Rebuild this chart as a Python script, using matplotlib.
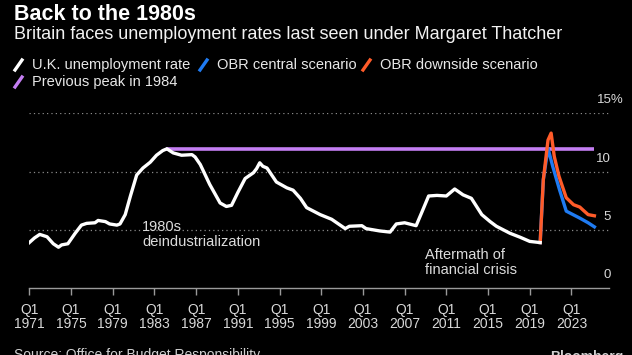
import matplotlib
matplotlib.use("Agg")
import matplotlib.pyplot as plt
from matplotlib.lines import Line2D

# --------------------------------------------------------------------------- #
# Data
# --------------------------------------------------------------------------- #
uk_years = [1971.0, 1971.5, 1972.0, 1972.7, 1973.3, 1973.8, 1974.1, 1974.7, 1975.4,
            1976.0, 1976.5, 1977.3, 1977.6, 1978.3, 1978.7, 1979.4, 1979.7, 1980.2,
            1980.7, 1981.3, 1981.9, 1982.6, 1983.2, 1983.8, 1984.2, 1984.8, 1985.6,
            1986.6, 1986.9, 1987.4, 1988.3, 1989.3, 1989.9, 1990.4, 1991.0, 1991.7,
            1992.5, 1992.8, 1993.1, 1993.4, 1993.8, 1994.7, 1995.7, 1996.3, 1997.0,
            1997.6, 1998.9, 2000.0, 2001.3, 2001.7, 2002.9, 2003.3, 2004.6, 2005.6,
            2006.2, 2007.0, 2008.1, 2008.6, 2009.3, 2010.1, 2011.0, 2011.8, 2012.6,
            2013.4, 2014.4, 2015.2, 2015.8, 2017.1, 2018.1, 2019.0, 2020.0]
uk_rate = [3.9, 4.3, 4.6, 4.4, 3.8, 3.5, 3.7, 3.8, 4.7,
           5.4, 5.55, 5.6, 5.8, 5.7, 5.5, 5.4, 5.5, 6.3,
           7.9, 9.7, 10.3, 10.8, 11.4, 11.8, 11.95, 11.6, 11.4,
           11.45, 11.25, 10.6, 8.9, 7.3, 7.0, 7.1, 8.2, 9.4,
           9.9, 10.25, 10.75, 10.45, 10.3, 9.1, 8.6, 8.4, 7.7,
           6.9, 6.3, 5.9, 5.1, 5.3, 5.35, 5.1, 4.9, 4.8,
           5.5, 5.6, 5.35, 6.4, 7.9, 7.95, 7.9, 8.5, 8.0,
           7.7, 6.3, 5.7, 5.3, 4.7, 4.35, 4.0, 3.9]

central_years = [2020.0, 2020.3, 2020.75, 2021.2, 2021.85, 2022.5, 2023.8, 2024.6, 2025.2]
central_rate = [3.9, 9.3, 12.0, 10.45, 8.45, 6.6, 6.0, 5.6, 5.25]

downside_years = [2020.0, 2020.3, 2020.75, 2021.05, 2021.35, 2021.8, 2022.5,
                  2023.2, 2023.8, 2024.1, 2024.6, 2025.2]
downside_rate = [3.9, 9.3, 12.7, 13.3, 11.3, 9.6, 7.75,
                 7.15, 6.95, 6.7, 6.3, 6.2]

peak_years = [1984.1, 2025.2]
peak_rate = [11.95, 11.95]

tick_years = list(range(1971, 2024, 4))
y_ticks = [0, 5, 10, 15]

WHITE = "#ffffff"
BLUE = "#1f7bf2"
ORANGE = "#ff5b29"
PURPLE = "#c47ef2"
LABEL = "#d8d8d8"

plt.rcParams["font.family"] = ["Liberation Sans", "DejaVu Sans"]

W, H = 632, 355
fig = plt.figure(figsize=(W / 100, H / 100), dpi=100, facecolor="black")


def fx(px):
    return px / W


def fy(py):
    return 1 - py / H


ax_l, ax_r, ax_b, ax_t = 29.3, 609.0, 288.0, 113.3
ax = fig.add_axes([fx(ax_l), fy(ax_b), fx(ax_r) - fx(ax_l), fy(ax_t) - fy(ax_b)])
ax.set_facecolor("black")
ax.set_xlim(1971, 2026.6)
ax.set_ylim(0, 15)

for v in y_ticks[1:]:
    ax.axhline(v, color="#8a8a8a", lw=0.9, ls=(0, (1, 2.5)), zorder=1)

ax.plot(peak_years, peak_rate, color=PURPLE, lw=2.6, zorder=3, solid_capstyle="butt")
ax.plot(central_years, central_rate, color=BLUE, lw=2.4, zorder=4)
ax.plot(downside_years, downside_rate, color=ORANGE, lw=2.4, zorder=5)
ax.plot(uk_years, uk_rate, color=WHITE, lw=2.4, zorder=6, solid_joinstyle="round")

for s in ["top", "right", "left"]:
    ax.spines[s].set_visible(False)
ax.spines["bottom"].set_color("#9a9a9a")
ax.spines["bottom"].set_linewidth(1.0)
ax.set_yticks([])
ax.set_xticks(tick_years)
ax.set_xticklabels([f"Q1\n{y}" for y in tick_years], color=LABEL, fontsize=10,
                   linespacing=1.05)
ax.tick_params(axis="x", length=5, width=1.0, color="#9a9a9a", pad=5.5)

# right-side value labels sitting above the gridlines
right_x = (610.5 - ax_l) / (ax_r - ax_l)
for v in y_ticks[:-1]:
    ax.text(right_x, v + 1.1, str(v), color=LABEL, fontsize=9.5,
            ha="right", va="center", transform=ax.get_yaxis_transform())
ax.text((596.5 - ax_l) / (ax_r - ax_l), 15 + 1.1, "15%", color=LABEL, fontsize=9.5,
        ha="left", va="center", transform=ax.get_yaxis_transform())

ax.text(1981.8, 4.57, "1980s\ndeindustrialization", color="#dcdcdc", fontsize=10.5,
        ha="left", va="center", linespacing=1.05)
ax.text(2009.0, 2.19, "Aftermath of\nfinancial crisis", color="#dcdcdc", fontsize=10.5,
        ha="left", va="center", linespacing=1.05)

# titles
fig.text(fx(14), fy(14), "Back to the 1980s", color="white", fontsize=15.5,
         fontweight="bold", va="center", ha="left")
fig.text(fx(14), fy(34.5), "Britain faces unemployment rates last seen under Margaret Thatcher",
         color="#f2f2f2", fontsize=13, va="center", ha="left")

# legend with slanted swatches
legend_items = [
    (15, 65, WHITE, "U.K. unemployment rate"),
    (200, 65, BLUE, "OBR central scenario"),
    (363, 65, ORANGE, "OBR downside scenario"),
    (15, 82, PURPLE, "Previous peak in 1984"),
]
for x0, yc, col, label in legend_items:
    fig.add_artist(Line2D([fx(x0), fx(x0 + 7)], [fy(yc + 5), fy(yc - 5)],
                          color=col, lw=2.4, transform=fig.transFigure))
    fig.text(fx(x0 + 17), fy(yc), label, color="#e8e8e8", fontsize=10.5,
             va="center", ha="left")

fig.text(fx(14), fy(348.5), "Source: Office for Budget Responsibility", color="#d0d0d0",
         fontsize=10, va="top", ha="left")
fig.text(fx(550), fy(350), "Bloomberg", color="#d0d0d0", fontsize=10, fontweight="bold",
         va="top", ha="left")

fig.savefig("out.png", dpi=100, facecolor="black")
